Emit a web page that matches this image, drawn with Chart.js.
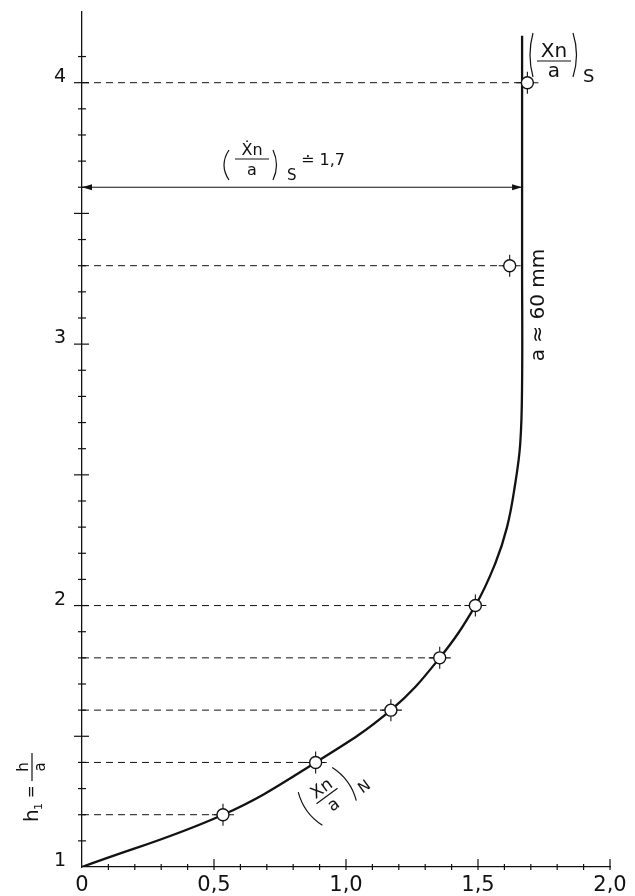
<!DOCTYPE html>
<html>
<head>
<meta charset="utf-8">
<title>h1 = h/a</title>
<script src="https://cdn.jsdelivr.net/npm/chart.js@4.4.1/dist/chart.umd.min.js"></script>
<style>
  html, body { margin: 0; padding: 0; background: #fff; }
  canvas { display: block; }
</style>
</head>
<body>
<canvas id="plot" width="635" height="896"></canvas>
<script>
const INK = '#121212';
const FONT = "'DejaVu Sans', sans-serif";

// measured points: relative height h1 = h/a and the matching Xn/a
const pointH = [1.2, 1.4, 1.6, 1.8, 2.0, 3.3, 4.0];
const pointXn = [0.534, 0.885, 1.17, 1.355, 1.49, 1.62, 1.687];

// faired curve (Xn/a)_N, turning into the vertical (Xn/a)_S
const curveXn = [0, 0.534, 0.885, 1.17, 1.355, 1.49, 1.565, 1.61, 1.64, 1.66, 1.667, 1.667, 1.667];
const curveH = [1.0, 1.2, 1.4, 1.6, 1.8, 2.0, 2.16, 2.3, 2.46, 2.62, 2.85, 3.3, 4.18];

const xnS = 1.667;    // limit value (Xn/a)_S
const arrowH = 3.6;   // height of the dimension arrow

const xLabelValues = [0, 0.5, 1.0, 1.5, 2.0];
const xLabelTexts = ['0', '0,5', '1,0', '1,5', '2,0'];
const yLabelValues = [1, 2, 3, 4];
const yLabelTexts = ['1', '2', '3', '4'];
const yTickTop = 4.1;  // last tick mark on the h1 axis

const labelFor = (values, texts) => v => {
  const i = values.findIndex(w => Math.abs(w - v) < 1e-6);
  return i < 0 ? '' : texts[i];
};
const isHalf = v => Math.abs(v * 2 - Math.round(v * 2)) < 1e-6;

const points = pointXn.map((x, i) => ({ x, y: pointH[i] }));

// dashed leaders from the h1 axis out to each point, split by gaps
const leaders = [];
pointXn.forEach((x, i) => {
  leaders.push({ x: 0, y: pointH[i] }, { x, y: pointH[i] }, { x: null, y: null });
});

function arrowHead(ctx, x, y, dir) {
  ctx.beginPath();
  ctx.moveTo(x, y);
  ctx.lineTo(x - dir * 10, y - 3);
  ctx.lineTo(x - dir * 10, y + 3);
  ctx.closePath();
  ctx.fill();
}

// fraction num/den centred on its bar at (0,0)
function frac(ctx, num, den, barHalf, size, numY, denY) {
  ctx.font = `${size}px ${FONT}`;
  ctx.textAlign = 'center';
  ctx.textBaseline = 'alphabetic';
  ctx.fillText(num, 0, numY);
  ctx.fillText(den, 0, denY);
  ctx.beginPath();
  ctx.moveTo(-barHalf, 0);
  ctx.lineTo(barHalf, 0);
  ctx.stroke();
}

function parens(ctx, left, right, top, bot, bowL, bowR) {
  const mid = (top + bot) / 2;
  ctx.beginPath();
  ctx.moveTo(left, top);
  ctx.quadraticCurveTo(left - 2 * bowL, mid, left, bot);
  ctx.moveTo(right, top);
  ctx.quadraticCurveTo(right + 2 * bowR, mid, right, bot);
  ctx.stroke();
}

const decorations = {
  id: 'decorations',
  afterDraw(chart) {
    const { ctx, chartArea: area, scales: { x, y } } = chart;
    ctx.save();
    ctx.strokeStyle = INK;
    ctx.fillStyle = INK;
    ctx.lineWidth = 1.2;

    // tick marks crossing the axes, longer at every half unit
    x.ticks.forEach(t => {
      if (t.value <= 0) return;
      const px = x.getPixelForValue(t.value);
      const big = isHalf(t.value);
      ctx.beginPath();
      ctx.moveTo(px, area.bottom - (big ? 8 : 3));
      ctx.lineTo(px, area.bottom + 3);
      ctx.stroke();
    });
    y.ticks.forEach(t => {
      if (t.value <= 1 || t.value > yTickTop + 1e-6) return;
      const py = y.getPixelForValue(t.value);
      const big = isHalf(t.value);
      ctx.beginPath();
      ctx.moveTo(area.left - (big ? 8 : 4), py);
      ctx.lineTo(area.left + (big ? 7 : 4), py);
      ctx.stroke();
    });

    // dimension arrow heads
    const ay = y.getPixelForValue(arrowH);
    arrowHead(ctx, x.getPixelForValue(0), ay, -1);
    arrowHead(ctx, x.getPixelForValue(xnS), ay, 1);

    ctx.lineWidth = 1.2;

    // (Xn/a)_S beside the top point
    ctx.save();
    ctx.translate(554, 61);
    frac(ctx, 'Xn', 'a', 17, 20, -4, 16);
    parens(ctx, -21, 19, -28, 16, 3, 3.5);
    ctx.font = `18px ${FONT}`;
    ctx.textAlign = 'left';
    ctx.fillText('S', 29, 21);
    ctx.restore();

    // (Ẋn/a)_S ≐ 1,7 over the dimension arrow
    ctx.save();
    ctx.translate(252, 159);
    frac(ctx, 'Ẋn', 'a', 17, 16, -4, 16);
    parens(ctx, -23, 21, -9, 21, 5, 3.5);
    ctx.font = `15px ${FONT}`;
    ctx.textAlign = 'left';
    ctx.fillText('S', 35, 21);
    ctx.font = `16px ${FONT}`;
    ctx.fillText('≐ ' + xnS.toFixed(1).replace('.', ','), 49, 6);
    ctx.restore();

    // (Xn/a)_N along the curve
    ctx.save();
    ctx.translate(327, 796);
    ctx.rotate(-36 * Math.PI / 180);
    frac(ctx, 'Xn', 'a', 13, 17, -4, 16);
    parens(ctx, -21, 21, -20, 21, 4, 4);
    ctx.font = `15px ${FONT}`;
    ctx.textAlign = 'left';
    ctx.fillText('N', 30, 19);
    ctx.restore();

    // a ≈ 60 mm, upright along the asymptote
    ctx.save();
    ctx.translate(539, 305);
    ctx.rotate(-Math.PI / 2);
    ctx.font = `20px ${FONT}`;
    ctx.textAlign = 'center';
    ctx.textBaseline = 'middle';
    ctx.fillText('a ≈ 60 mm', 0, 0);
    ctx.restore();

    // axis title h1 = h/a
    ctx.save();
    ctx.translate(33, 786);
    ctx.rotate(-Math.PI / 2);
    ctx.textAlign = 'left';
    ctx.textBaseline = 'alphabetic';
    ctx.font = `20px ${FONT}`;
    ctx.fillText('h', -36, 5);
    ctx.font = `11px ${FONT}`;
    ctx.fillText('1', -24, 9);
    ctx.font = `15px ${FONT}`;
    ctx.fillText('=', -12, 3);
    ctx.translate(19, -1);
    frac(ctx, 'h', 'a', 14, 15, -4, 13);
    ctx.restore();

    ctx.restore();
  }
};

new Chart(document.getElementById('plot'), {
  type: 'scatter',
  data: {
    datasets: [
      {
        // open measuring points
        data: points,
        showLine: false,
        pointStyle: 'circle',
        pointRadius: 6,
        pointBackgroundColor: '#fff',
        pointBorderColor: INK,
        pointBorderWidth: 1.4,
      },
      {
        // scatter cross behind each point
        data: points,
        showLine: false,
        pointStyle: 'cross',
        pointRadius: 11,
        pointBorderColor: INK,
        pointBorderWidth: 1.1,
      },
      {
        data: curveXn.map((x, i) => ({ x, y: curveH[i] })),
        showLine: true,
        borderColor: INK,
        borderWidth: 2.3,
        tension: 0.4,
        pointRadius: 0,
      },
      {
        data: leaders,
        showLine: true,
        spanGaps: false,
        borderColor: INK,
        borderWidth: 1,
        borderDash: [7, 5],
        pointRadius: 0,
      },
      {
        data: [{ x: 0, y: arrowH }, { x: xnS, y: arrowH }],
        showLine: true,
        borderColor: INK,
        borderWidth: 1.2,
        pointRadius: 0,
      },
    ],
  },
  options: {
    responsive: false,
    animation: false,
    events: [],
    layout: { padding: { top: 8, right: 25, left: 0, bottom: 0 } },
    plugins: {
      legend: { display: false },
      tooltip: { enabled: false },
    },
    scales: {
      x: {
        type: 'linear',
        min: 0,
        max: 2,
        grid: { display: false, drawTicks: false },
        border: { color: INK, width: 1.3 },
        ticks: {
          stepSize: 0.1,
          autoSkip: false,
          maxRotation: 0,
          minRotation: 0,
          padding: 6,
          color: INK,
          font: { family: FONT, size: 21 },
          callback: labelFor(xLabelValues, xLabelTexts),
        },
        afterFit: s => { s.height = 29; s.paddingLeft = 0; s.paddingRight = 0; },
      },
      y: {
        type: 'linear',
        min: 1,
        max: 4.27,
        grid: { display: false, drawTicks: false },
        border: { color: INK, width: 1.3 },
        ticks: {
          stepSize: 0.1,
          autoSkip: false,
          padding: 16,
          labelOffset: -6,
          color: INK,
          font: { family: FONT, size: 19, lineHeight: 0.6 },
          callback: labelFor(yLabelValues, yLabelTexts),
        },
        afterBuildTicks: s => { s.ticks = s.ticks.filter(t => t.value <= yTickTop + 1e-6); },
        afterFit: s => { s.width = 82; s.paddingTop = 0; s.paddingBottom = 0; },
      },
    },
  },
  plugins: [decorations],
});
</script>
</body>
</html>
